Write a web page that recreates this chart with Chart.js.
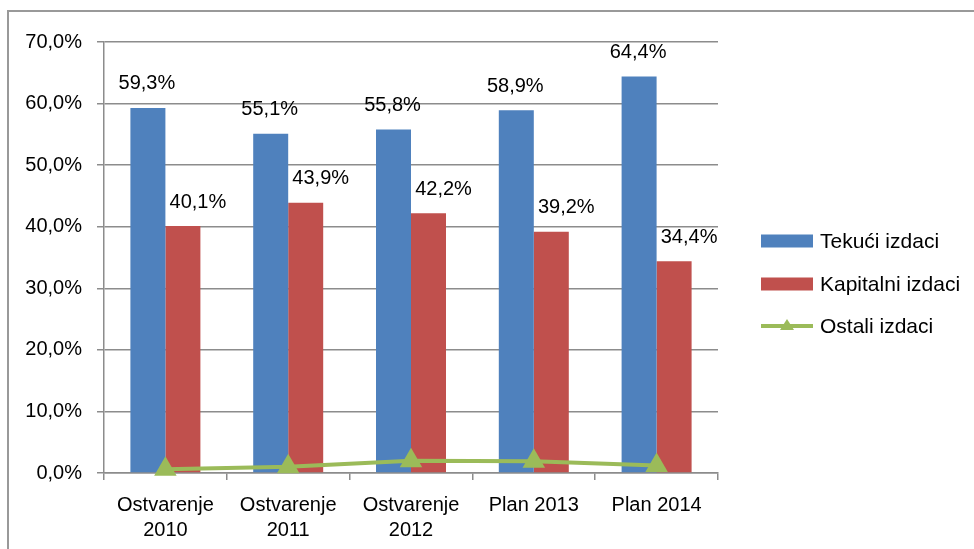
<!DOCTYPE html>
<html>
<head>
<meta charset="utf-8">
<script src="https://cdn.jsdelivr.net/npm/chart.js@4"></script>
<style>
  body { margin: 0; background: #fff; }
</style>
</head>
<body>
<canvas id="myChart" width="974" height="549"></canvas>
<script>
// values
const categories = [['Ostvarenje', '2010'], ['Ostvarenje', '2011'], ['Ostvarenje', '2012'], 'Plan 2013', 'Plan 2014'];
const tekuci = [59.3, 55.1, 55.8, 58.9, 64.4];
const kapitalni = [40.1, 43.9, 42.2, 39.2, 34.4];
const ostali = [0.6, 1.0, 2.0, 1.9, 1.2];
const seriesNames = ['Tekući izdaci', 'Kapitalni izdaci', 'Ostali izdaci'];

const FONT = '"Liberation Sans", Arial, sans-serif';
const GRID = '#8c8c8c';

function pct(v) {
    return v.toFixed(1).replace('.', ',') + '%';
}

// outer frame + custom legend + bar labels
const decorations = {
    id: 'decorations',
    beforeDraw(chart) {
        const ctx = chart.ctx;
        ctx.save();
        ctx.fillStyle = '#fff';
        ctx.fillRect(0, 0, chart.width, chart.height);
        ctx.strokeStyle = '#999';
        ctx.lineWidth = 2;
        ctx.beginPath();
        ctx.moveTo(8, chart.height + 5);
        ctx.lineTo(8, 11);
        ctx.lineTo(chart.width + 5, 11);
        ctx.stroke();
        ctx.restore();
    },
    afterDatasetsDraw(chart) {
        const ctx = chart.ctx;
        ctx.save();
        ctx.font = '20px ' + FONT;
        ctx.fillStyle = '#000';
        ctx.textAlign = 'center';
        ctx.textBaseline = 'bottom';
        chart.data.datasets.forEach((ds, i) => {
            if (ds.type === 'line') return;
            const shift = i === 1 ? 15 : -1;
            chart.getDatasetMeta(i).data.forEach((bar, j) => {
                ctx.fillText(pct(ds.data[j]), bar.x + shift, bar.y - 14);
            });
        });

        // legend
        const lx = 761, ys = [241, 284, 326];
        ctx.font = '21px ' + FONT;
        ctx.textAlign = 'left';
        ctx.textBaseline = 'middle';
        chart.data.datasets.forEach((ds, i) => {
            const y = ys[i];
            if (ds.type === 'line') {
                ctx.strokeStyle = ds.borderColor;
                ctx.lineWidth = 4;
                ctx.beginPath();
                ctx.moveTo(lx, y);
                ctx.lineTo(lx + 52, y);
                ctx.stroke();
                ctx.fillStyle = ds.borderColor;
                ctx.beginPath();
                ctx.moveTo(lx + 26, y - 7);
                ctx.lineTo(lx + 33, y + 4);
                ctx.lineTo(lx + 19, y + 4);
                ctx.closePath();
                ctx.fill();
            } else {
                ctx.fillStyle = ds.backgroundColor;
                ctx.fillRect(lx, y - 6.5, 52, 13);
            }
            ctx.fillStyle = '#000';
            ctx.fillText(ds.label, lx + 59, y + 1);
        });
        ctx.restore();
    }
};

const ctx = document.getElementById('myChart').getContext('2d');
const myChart = new Chart(ctx, {
    type: 'bar',
    data: {
        labels: categories,
        datasets: [
            {
                label: seriesNames[0],
                data: tekuci,
                backgroundColor: '#4f81bd',
                categoryPercentage: 0.57,
                barPercentage: 1,
                order: 1
            },
            {
                label: seriesNames[1],
                data: kapitalni,
                backgroundColor: '#c0504d',
                categoryPercentage: 0.57,
                barPercentage: 1,
                order: 1
            },
            {
                type: 'line',
                label: seriesNames[2],
                data: ostali,
                borderColor: '#9bbb59',
                backgroundColor: '#9bbb59',
                borderWidth: 4,
                pointStyle: 'triangle',
                pointRadius: 13,
                pointBorderWidth: 0,
                tension: 0,
                clip: false,
                order: 0
            }
        ]
    },
    options: {
        responsive: false,
        animation: false,
        layout: { padding: { left: 0, right: 256, top: 42, bottom: 0 } },
        plugins: {
            legend: { display: false },
            tooltip: { enabled: false }
        },
        scales: {
            x: {
                afterFit: scale => { scale.height = 76; },
                grid: {
                    offset: true,
                    drawOnChartArea: false,
                    drawTicks: true,
                    tickLength: 7,
                    color: GRID,
                    lineWidth: 1.5
                },
                border: { color: GRID, width: 1.5 },
                ticks: {
                    color: '#000',
                    padding: 13,
                    maxRotation: 0,
                    font: { family: FONT, size: 20, lineHeight: 1.25 }
                }
            },
            y: {
                min: 0,
                max: 70,
                afterFit: scale => { scale.width = 104; },
                grid: {
                    color: GRID,
                    lineWidth: 1.5,
                    tickLength: 7
                },
                border: { color: GRID, width: 1.5 },
                ticks: {
                    stepSize: 10,
                    color: '#000',
                    padding: 15,
                    font: { family: FONT, size: 20 },
                    callback: v => pct(v)
                }
            }
        }
    },
    plugins: [decorations]
});
</script>
</body>
</html>
